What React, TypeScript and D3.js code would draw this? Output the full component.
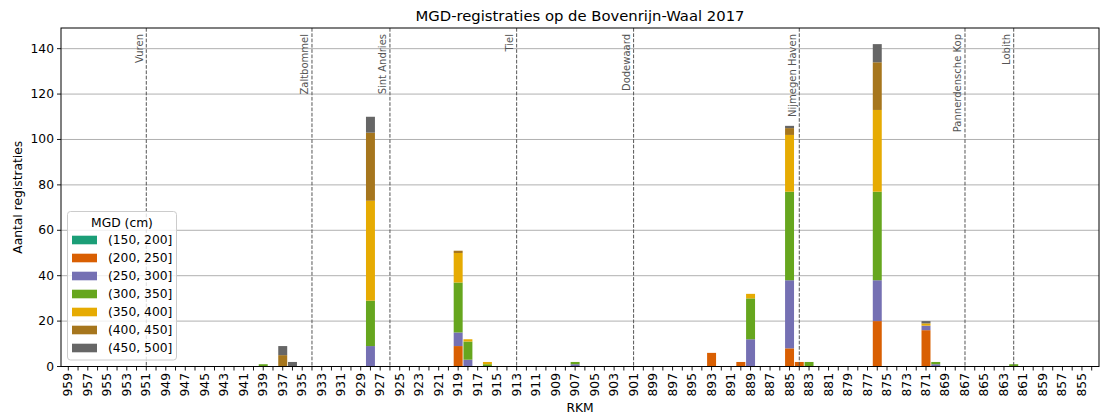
import React from "react";
import * as d3 from "d3";

// Categories: RKM from 959 down to 854
const rkmStart = 959;
const rkmEnd = 854;
const categories: number[] = d3.range(rkmStart, rkmEnd - 1, -1);

// MGD classes (legend)
const classes = ["(150, 200]", "(200, 250]", "(250, 300]", "(300, 350]", "(350, 400]", "(400, 450]", "(450, 500]"];
const colors = ["#1b9e77", "#d95f02", "#7570b3", "#66a61e", "#e6ab02", "#a6761d", "#666666"];

// RKM values that have registrations
const observedRkm = [939, 937, 936, 928, 919, 918, 916, 907, 893, 890, 889, 885, 884, 883, 876, 871, 870, 862];
// counts per class, aligned with observedRkm
const c150_200 = [0, 0, 0, 0, 0, 0, 0, 0, 0, 0, 0, 0, 0, 0, 0, 0, 0, 0];
const c200_250 = [0, 0, 0, 0, 9, 0, 0, 0, 6, 2, 0, 8, 2, 0, 20, 16, 0, 0];
const c250_300 = [0, 0, 0, 9, 6, 3, 0, 1, 0, 0, 12, 30, 0, 0, 18, 2, 1, 0];
const c300_350 = [1, 0, 0, 20, 22, 8, 1, 1, 0, 0, 18, 39, 0, 2, 39, 0, 1, 1];
const c350_400 = [0, 0, 0, 44, 13, 1, 1, 0, 0, 0, 2, 25, 0, 0, 36, 1, 0, 0];
const c400_450 = [0, 5, 0, 30, 1, 0, 0, 0, 0, 0, 0, 3, 0, 0, 21, 0, 0, 0];
const c450_500 = [0, 4, 2, 7, 0, 0, 0, 0, 0, 0, 0, 1, 0, 0, 8, 1, 0, 0];
const seriesValues = [c150_200, c200_250, c250_300, c300_350, c350_400, c400_450, c450_500];

// Reference locations (vertical dashed lines)
const locationNames = ["Vuren", "Zaltbommel", "Sint Andries", "Tiel", "Dodewaard", "Nijmegen Haven", "Pannerdensche Kop", "Lobith"];
const locationRkm = [951, 934, 926, 913, 901, 884, 867, 862];

const yTicks = [0, 20, 40, 60, 80, 100, 120, 140];
const yMax = 149.1;

const W = 1106;
const H = 416;
const left = 61;
const right = 1099;
const top = 28;
const bottom = 366.5;
const FONT = "DejaVu Sans, sans-serif";

export default function App() {
  const rows = categories.map((r) => {
    const row: any = { rkm: r };
    const idx = observedRkm.indexOf(r);
    classes.forEach((c, k) => {
      row[c] = idx >= 0 ? seriesValues[k][idx] : 0;
    });
    return row;
  });
  const stacked = d3.stack().keys(classes)(rows);

  const x = d3
    .scaleBand<number>()
    .domain(categories)
    .range([left, right])
    .paddingInner(0)
    .paddingOuter(0.25);
  const bw = x.bandwidth();
  const cx = (r: number) => (x(r) as number) + bw / 2;
  const barW = bw * 0.92;

  const y = d3.scaleLinear().domain([0, yMax]).range([bottom, top]);

  const fs = 12.3;

  return (
    <svg width={W} height={H} style={{ position: "absolute", left: 0, top: 0, display: "block", background: "#fff" }} fontFamily={FONT}>
      <rect x={0} y={0} width={W} height={H} fill="#fff" />
      {/* grid */}
      {yTicks.map((t) => (
        <line key={"g" + t} x1={left} x2={right} y1={y(t)} y2={y(t)} stroke="#b0b0b0" strokeWidth={1} />
      ))}
      {/* bars */}
      {stacked.map((s, k) => (
        <g key={classes[k]} fill={colors[k]}>
          {s.map((d: any, i: number) => {
            const h = y(d[0]) - y(d[1]);
            if (h <= 0) return null;
            return <rect key={i} x={cx(d.data.rkm) - barW / 2} y={y(d[1])} width={barW} height={h} />;
          })}
        </g>
      ))}
      {/* location lines */}
      {locationRkm.map((r, i) => (
        <g key={"loc" + i}>
          <line x1={cx(r)} x2={cx(r)} y1={top} y2={bottom} stroke="#555" strokeWidth={1} strokeDasharray="3.7,1.6" />
          <text
            transform={`translate(${cx(r) - 3.5},${top + 6}) rotate(-90)`}
            textAnchor="end"
            fontSize={10}
            fill="#555"
          >
            {locationNames[i]}
          </text>
        </g>
      ))}
      {/* axes frame */}
      <rect x={left} y={top} width={right - left} height={bottom - top} fill="none" stroke="#000" strokeWidth={1} />
      {/* x ticks */}
      {categories.map((r) => (
        <line key={"xt" + r} x1={cx(r)} x2={cx(r)} y1={bottom} y2={bottom + 4} stroke="#000" strokeWidth={0.9} />
      ))}
      {categories
        .filter((r) => (rkmStart - r) % 2 === 0)
        .map((r) => (
          <text
            key={"xl" + r}
            transform={`translate(${cx(r)},${bottom + 6.5}) rotate(-90)`}
            textAnchor="end"
            dominantBaseline="central"
            fontSize={fs}
            fill="#000"
          >
            {r}
          </text>
        ))}
      {/* y ticks */}
      {yTicks.map((t) => (
        <g key={"yt" + t}>
          <line x1={left - 4} x2={left} y1={y(t)} y2={y(t)} stroke="#000" strokeWidth={0.9} />
          <text x={left - 7} y={y(t)} textAnchor="end" dominantBaseline="central" fontSize={fs} fill="#000">
            {t}
          </text>
        </g>
      ))}
      {/* axis labels */}
      <text x={(left + right) / 2} y={412} textAnchor="middle" fontSize={fs} fill="#000">
        RKM
      </text>
      <text transform={`translate(22,${(top + bottom) / 2}) rotate(-90)`} textAnchor="middle" fontSize={fs} fill="#000">
        Aantal registraties
      </text>
      {/* title */}
      <text x={(left + right) / 2} y={21} textAnchor="middle" fontSize={14.8} fill="#000">
        MGD-registraties op de Bovenrijn-Waal 2017
      </text>
      {/* legend */}
      <g>
        <rect x={67.5} y={211.5} width={109} height={148.5} rx={3} fill="#fff" fillOpacity={0.8} stroke="#ccc" strokeWidth={1} />
        <text x={122} y={222.5} textAnchor="middle" dominantBaseline="central" fontSize={fs} fill="#000">
          MGD (cm)
        </text>
        {classes.map((c, k) => (
          <g key={"lg" + k}>
            <rect x={72} y={240 + k * 18 - 4.3} width={25} height={8.6} fill={colors[k]} />
            <text x={108} y={240 + k * 18} dominantBaseline="central" fontSize={fs} fill="#000">
              {c}
            </text>
          </g>
        ))}
      </g>
    </svg>
  );
}
